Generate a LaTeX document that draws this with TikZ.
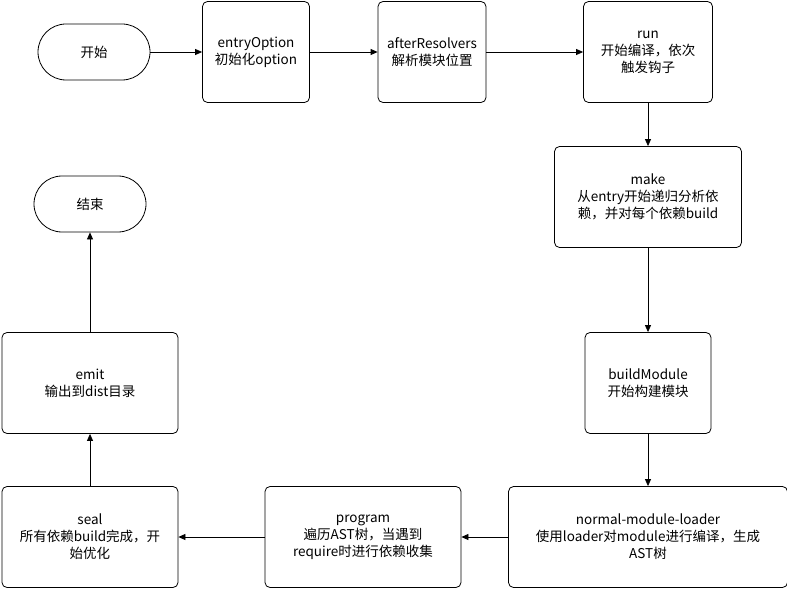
\documentclass[tikz,border=0pt]{standalone}
\usepackage{fontspec}
\setmainfont{Noto Sans CJK SC}
\usetikzlibrary{arrows.meta}
\tikzset{
  stepbox/.style={draw, thick, rounded corners=5pt, align=center, fill=white},
  endbox/.style={draw, thick, rounded corners=28pt, minimum width=112pt, minimum height=56pt},
  flow/.style={thick, -{Triangle[length=7pt,width=6pt]}}
}
\begin{document}
\begin{tikzpicture}[x=1pt,y=-1pt,font=\fontsize{13.5}{17}\selectfont]
\useasboundingbox (0,0) rectangle (787,591);
% start and end
\node[endbox] (start) at (94,52) {开始};
\node[endbox] (finish) at (90,204) {结束};
% steps
\node[stepbox, minimum width=107pt, minimum height=101pt] (entry) at (256,52) {entryOption\\初始化option};
\node[stepbox, minimum width=108pt, minimum height=101pt] (resolve) at (432,52) {afterResolvers\\解析模块位置};
\node[stepbox, minimum width=129pt, minimum height=101pt] (run) at (648,52) {run\\开始编译，依次\\触发钩子};
\node[stepbox, minimum width=187pt, minimum height=101pt] (make) at (648,197) {make\\从entry开始递归分析依\\赖，并对每个依赖build};
\node[stepbox, minimum width=126pt, minimum height=101pt] (build) at (648,383) {buildModule\\开始构建模块};
\node[stepbox, minimum width=279pt, minimum height=101pt] (loader) at (648,537) {normal-module-loader\\使用loader对module进行编译，生成\\AST树};
\node[stepbox, minimum width=196pt, minimum height=101pt] (program) at (363,537) {program\\遍历AST树，当遇到\\require时进行依赖收集};
\node[stepbox, minimum width=176pt, minimum height=101pt] (seal) at (90,537) {seal\\所有依赖build完成，开\\始优化};
\node[stepbox, minimum width=176pt, minimum height=101pt] (emit) at (90,383) {emit\\输出到dist目录};
% connectors
\draw[flow] (start) -- (entry);
\draw[flow] (entry) -- (resolve);
\draw[flow] (resolve) -- (run);
\draw[flow] (run) -- (make);
\draw[flow] (make) -- (build);
\draw[flow] (build) -- (loader);
\draw[flow] (loader) -- (program);
\draw[flow] (program) -- (seal);
\draw[flow] (seal) -- (emit);
\draw[flow] (emit) -- (finish);
\end{tikzpicture}
\end{document}
